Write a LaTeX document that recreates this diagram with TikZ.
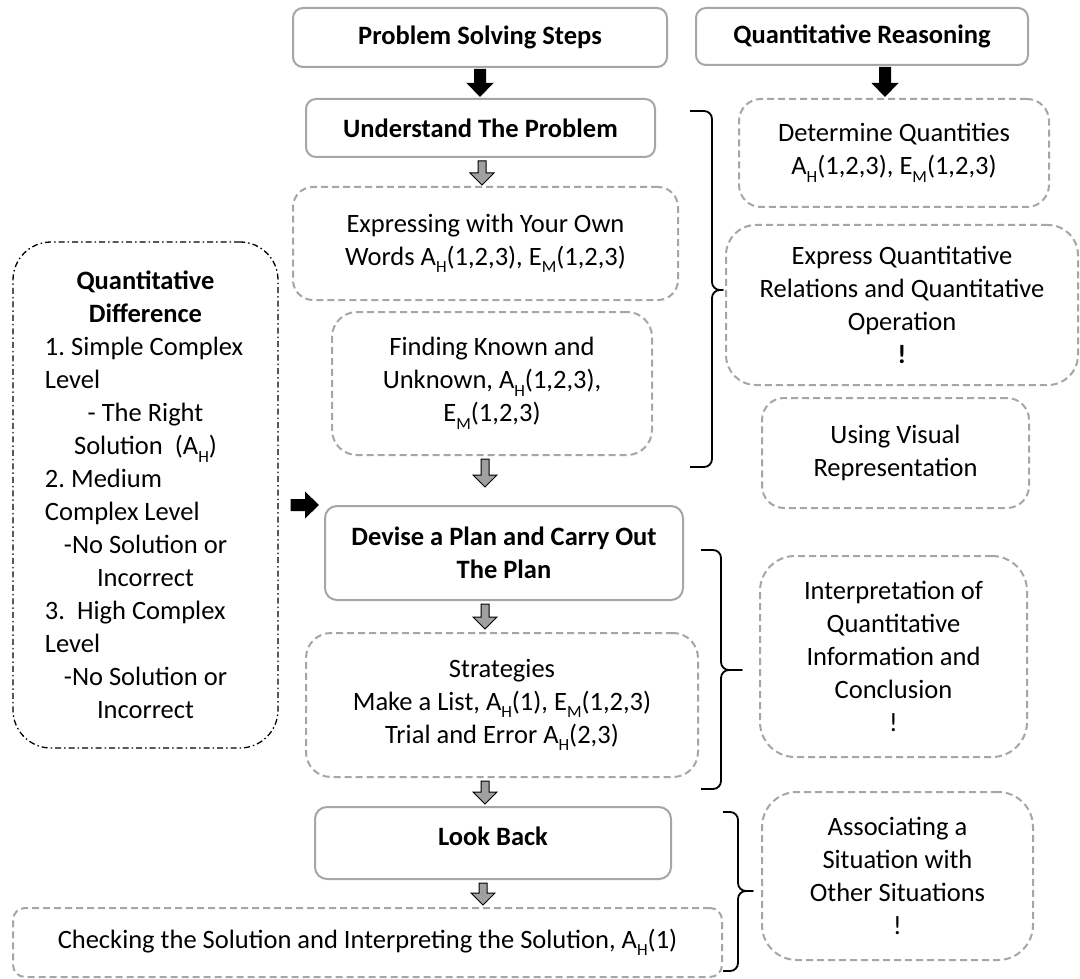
\documentclass[tikz,border=0pt]{standalone}
\usepackage{fontspec}
\setmainfont{Carlito}
\usetikzlibrary{calc}
\frenchspacing

\definecolor{boxgray}{HTML}{A6A6A6}
\definecolor{arrowgray}{HTML}{A0A0A0}

\newcommand{\mainsize}{\fontsize{26.5}{33}\selectfont}
\newcommand{\lowsub}[1]{\raisebox{-7.5pt}{\fontsize{17}{17}\selectfont #1}}

% gray outlined block arrow pointing down, at x = #1, from node #2 to node #3,
% stopping #4 pt short of the lower node
\newcommand{\grayarrow}[4]{%
  \path[gblock] let \p1=(#2.south), \p2=(#3.north) in
    ({#1pt-4pt},{\y1-3pt}) -- ({#1pt+4pt},{\y1-3pt}) -- ({#1pt+4pt},{\y2+#4pt+13pt})
    -- ({#1pt+12pt},{\y2+#4pt+13pt}) -- ({#1pt},{\y2+#4pt+1pt}) -- ({#1pt-12pt},{\y2+#4pt+13pt})
    -- ({#1pt-4pt},{\y2+#4pt+13pt}) -- cycle;}

% solid black block arrow pointing down
\newcommand{\blackdown}[3]{%
  \path[bblock] let \p1=(#2.south), \p2=(#3.north) in
    ({#1pt-6pt},{\y1-1pt}) -- ({#1pt+6pt},{\y1-1pt}) -- ({#1pt+6pt},{\y2+15pt})
    -- ({#1pt+13.5pt},{\y2+15pt}) -- ({#1pt},{\y2+1pt}) -- ({#1pt-13.5pt},{\y2+15pt})
    -- ({#1pt-6pt},{\y2+15pt}) -- cycle;}

% solid black block arrow pointing right, at height #1
\newcommand{\blackright}[3]{%
  \path[bblock] let \p1=(#2.east), \p2=(#3.west) in
    ({\x1+12pt},{-#1pt+6pt}) -- ({\x2-19pt},{-#1pt+6pt}) -- ({\x2-19pt},{-#1pt+13.5pt})
    -- ({\x2-5pt},{-#1pt}) -- ({\x2-19pt},{-#1pt-13.5pt}) -- ({\x2-19pt},{-#1pt-6pt})
    -- ({\x1+12pt},{-#1pt-6pt}) -- cycle;}

% right curly brace: ends at x #1, spine at #2, tip at #3; top #4, tip height #5, bottom #6
\newcommand{\rightbrace}[6]{%
  \draw[bracestyle] (#1,#4) -- ({#2-8},#4) to[out=0,in=90] (#2,{#4+8})
    -- (#2,{#5-8}) to[out=-90,in=180] ({#2+8},#5) -- (#3,#5)
    -- ({#2+8},#5) to[out=180,in=90] (#2,{#5+8})
    -- (#2,{#6-8}) to[out=-90,in=0] ({#2-8},#6) -- (#1,#6);}

\begin{document}
\begin{tikzpicture}[x=1pt,y=-1pt,
  solidbox/.style={draw=boxgray, line width=2pt, rounded corners=10pt, align=center,
    inner sep=0pt, font=\mainsize\bfseries},
  dashbox/.style={draw=boxgray, line width=2pt, dash pattern=on 7pt off 4pt,
    align=center, inner sep=0pt, font=\mainsize},
  diffbox/.style={draw=black, line width=1.3pt, dash pattern=on 6pt off 3pt on 1.5pt off 3pt,
    rounded corners=38pt, align=left, inner sep=0pt, font=\mainsize},
  gblock/.style={draw=black, fill=arrowgray, line width=1pt, line join=miter},
  bblock/.style={fill=black},
  bracestyle/.style={draw=black, line width=1.8pt, line join=round}]

\fill[white] (0,0) rectangle (1080,979);
\useasboundingbox (0,0) rectangle (1080,979);

% headers
\node[solidbox, minimum width=374pt, minimum height=59pt] (pss) at (480,37.5) {Problem Solving Steps};
\node[solidbox, minimum width=332pt, minimum height=57pt] (qr) at (862,36.5) {Quantitative Reasoning};

% problem solving column
\node[solidbox, minimum width=349pt, minimum height=58pt] (und) at (480.5,128) {Understand The Problem};
\node[dashbox, rounded corners=20pt, minimum width=385pt, minimum height=113pt] (expr) at (485.5,243.5)
  {Expressing with Your Own\\Words A\lowsub{H}(1,2,3), E\lowsub{M}(1,2,3)};
\node[dashbox, rounded corners=25pt, minimum width=320pt, minimum height=143pt] (find) at (492,383.5)
  {Finding Known and\\Unknown, A\lowsub{H}(1,2,3),\\E\lowsub{M}(1,2,3)};
\node[solidbox, rounded corners=12pt, minimum width=358pt, minimum height=94pt] (devise) at (504,553)
  {Devise a Plan and Carry Out\\The Plan};
\node[dashbox, rounded corners=25pt, minimum width=392pt, minimum height=144pt] (strat) at (502,705)
  {Strategies\\Make a List, A\lowsub{H}(1), E\lowsub{M}(1,2,3)\\Trial and Error A\lowsub{H}(2,3)};
\node[solidbox, rounded corners=12pt, minimum width=356pt, minimum height=72pt] (lookback) at (493,843)
  {\raisebox{14pt}{Look Back}};
\node[dashbox, rounded corners=12pt, minimum width=709pt, minimum height=69pt] (check) at (367.5,942.5)
  {Checking the Solution and Interpreting the Solution, A\lowsub{H}(1)};

% quantitative reasoning column
\node[dashbox, rounded corners=22pt, minimum width=310pt, minimum height=108pt] (det) at (894,153)
  {Determine Quantities\\A\lowsub{H}(1,2,3), E\lowsub{M}(1,2,3)};
\node[dashbox, rounded corners=30pt, minimum width=352pt, minimum height=160pt] (exq) at (902,305)
  {Express Quantitative\\Relations and Quantitative\\Operation\\\textbf{!}};
\node[dashbox, rounded corners=22pt, minimum width=267pt, minimum height=110pt] (vis) at (895.5,453)
  {Using Visual\\Representation};
\node[dashbox, rounded corners=35pt, minimum width=267pt, minimum height=201pt] (interp) at (893.5,656.5)
  {Interpretation of\\Quantitative\\Information and\\Conclusion\\!};
\node[dashbox, rounded corners=35pt, minimum width=271pt, minimum height=168pt] (assoc) at (897.5,876)
  {Associating a\\Situation with\\Other Situations\\!};

% quantitative difference
\node[diffbox, minimum width=265pt, minimum height=506pt] (diff) at (145.5,495)
  {\textbf{\makebox[201pt]{Quantitative}}\\
   \textbf{\makebox[201pt]{Difference}}\\
   1. Simple Complex\\
   Level\\
   \makebox[201pt]{- The Right}\\
   \makebox[201pt]{Solution~~(A\lowsub{H})}\\
   2. Medium\\
   Complex Level\\
   \makebox[201pt]{-No Solution or}\\
   \makebox[201pt]{Incorrect}\\
   3.~~High Complex\\
   Level\\
   \makebox[201pt]{-No Solution or}\\
   \makebox[201pt]{Incorrect}};

% block arrows
\blackdown{480}{pss}{und}
\blackdown{885}{qr}{det}
\grayarrow{482}{und}{expr}{0}
\grayarrow{485}{find}{devise}{17}
\grayarrow{485}{devise}{strat}{2}
\grayarrow{485}{strat}{lookback}{1}
\grayarrow{483}{lookback}{check}{1}
\blackright{505}{diff}{devise}

% braces
\rightbrace{690}{712}{723}{111}{290}{467}
\rightbrace{701}{721}{742}{550}{670}{789}
\rightbrace{723}{738}{753}{812}{891}{971}
\end{tikzpicture}
\end{document}
